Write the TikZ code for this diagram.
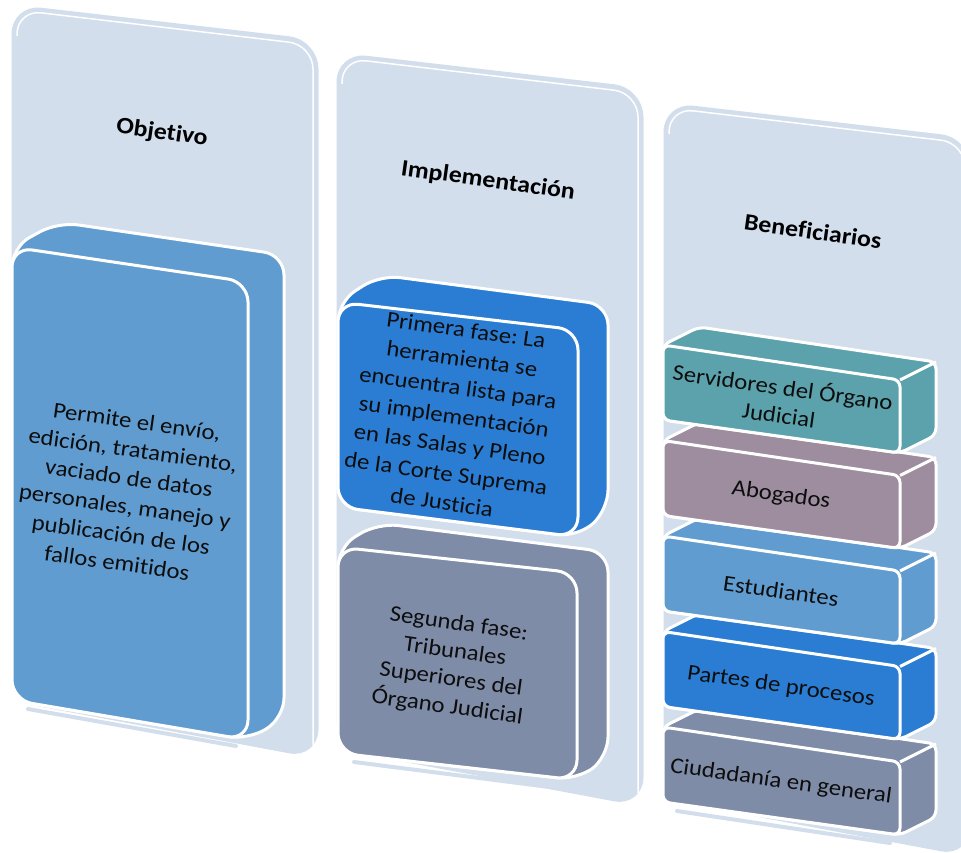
\documentclass[tikz,border=0pt]{standalone}
\usepackage{fontspec}
\setmainfont{Carlito}[FakeStretch=1.1, Ligatures=NoCommon]
\frenchspacing
\definecolor{pale}{HTML}{D3DEEC}
\definecolor{objblue}{HTML}{619CD0}
\definecolor{bright}{HTML}{2A7DD3}
\definecolor{slate}{HTML}{7F8CA8}
\definecolor{tealbox}{HTML}{5BA2AC}
\definecolor{mauve}{HTML}{9D8D9E}
\tikzset{
  column/.style={fill=pale, draw=pale, line width=3pt, rounded corners=28pt},
  rim/.style={draw=white, line width=1.5pt, rounded corners=24pt},
  slab/.style={draw=white, line width=3pt, line join=round},
  txt/.style={align=center, rotate=-8, text=black!95, font=\fontsize{22.5}{28}\selectfont},
  title/.style={rotate=-8, font=\bfseries\fontsize{23.5}{28}\selectfont},
  band/.style={draw=pale, line width=4pt, line cap=round},
}
\begin{document}
\begin{tikzpicture}[x=1pt, y=-1pt]
        \useasboundingbox (0,0) rectangle (961,853);
        % Draw columns
        \foreach \dx/\dy in {0/0, 325/48, 652/98} {
            \draw[column, shift={(\dx,\dy)}] (13,6) -- (317,41) -- (317,757) -- (13,700) -- cycle;
            \draw[rim, shift={(\dx,\dy)}] (17,36) -- (17,10) -- (313,45) -- (313,745);
        }
        % Titles
        \node[title] (tobj) at (162,133) {Objetivo};
        \node[title] (timp) at (488,181) {Implementación};
        \node[title] (tben) at (813,231) {Beneficiarios};
        % Objetivo slab
        \filldraw[slab, fill=objblue, rounded corners=20pt] (12,700) -- (12,247) -- (58,222) -- (284,255) -- (284,718) -- (248,740) -- cycle;
        \filldraw[slab, fill=objblue, rounded corners=20pt] (12,247) -- (248,282) -- (248,740) -- (12,700) -- cycle;
        \draw[band] (28,709) -- (236,746);
        \node[txt, font=\fontsize{22.5}{28.5}\selectfont] (obj) at (127,492) {Permite el envío,\\edición, tratamiento,\\vaciado de datos\\personales, manejo y\\publicación de los\\fallos emitidos};
        % Implementacion slabs, lower one first
        \filldraw[slab, fill=slate, rounded corners=20pt] (338,753) -- (338,547) -- (378,523) -- (608,552) -- (608,757) -- (577,780) -- cycle;
        \filldraw[slab, fill=slate, rounded corners=20pt] (338,547) -- (577,573) -- (577,780) -- (338,753) -- cycle;
        \draw[band] (354,762) -- (565,789);
        \node[txt] (fase2) at (453,666) {Segunda fase:\\Tribunales\\Superiores del\\Órgano Judicial};
        \filldraw[slab, fill=bright, rounded corners=20pt] (338,507) -- (338,302) -- (380,275) -- (608,305) -- (608,510) -- (578,537) -- cycle;
        \filldraw[slab, fill=bright, rounded corners=20pt] (338,302) -- (578,330) -- (578,537) -- (338,507) -- cycle;
        \node[txt, font=\fontsize{22.5}{29}\selectfont] (fase1) at (454,416) {Primera fase: La\\herramienta se\\encuentra lista para\\su implementación\\en las Salas y Pleno\\de la Corte Suprema\\de Justicia};
        % Beneficiarios slabs, from the bottom up
        \draw[band] (677,811) -- (890,843);
        \foreach \i/\y/\c/\txt in {5/727/slate/{Ciudadanía en general}, 4/631.5/bright/{Partes de procesos}, 3/536/objblue/{Estudiantes}, 2/440.5/mauve/{Abogados}, 1/345/tealbox/{Servidores del Órgano\\Judicial}} {
            \filldraw[slab, fill=\c, rounded corners=7pt] (663,\y+75) -- (663,\y) -- (699,\y-18) -- (936,\y+17) -- (936,\y+90) -- (900,\y+108) -- cycle;
            \filldraw[slab, fill=\c, rounded corners=7pt] (663,\y) -- (900,\y+35) -- (900,\y+108) -- (663,\y+75) -- cycle;
            \draw[slab] (900,\y+35) -- (936,\y+17);
            \node[txt] (ben\i) at (781,\y+55) {\txt};
        }
\end{tikzpicture}
\end{document}
